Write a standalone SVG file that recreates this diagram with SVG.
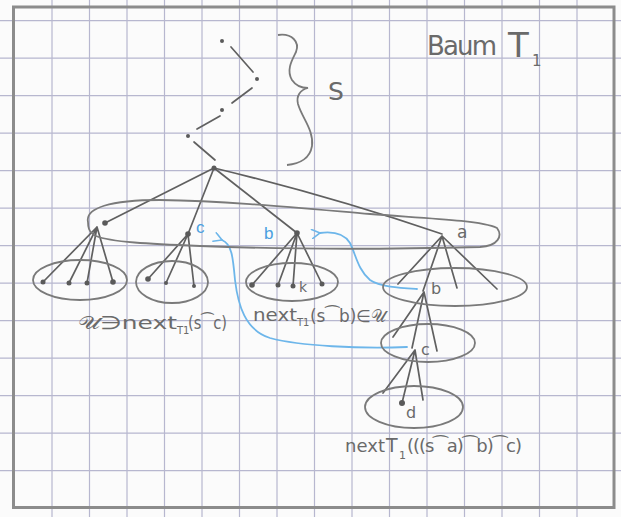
<svg xmlns="http://www.w3.org/2000/svg" width="621" height="517" viewBox="0 0 621 517">
<defs>
<style>
.grid{stroke:#b7b7cf;stroke-width:1.2;fill:none}
.frame{stroke:#8c8c8c;stroke-width:3;fill:none}
.edge{stroke:#606060;stroke-width:1.7;fill:none;stroke-linecap:round}
.ell{stroke:#7a7a7a;stroke-width:1.8;fill:none}
.dot{fill:#5a5a5a}
.blue{stroke:#6db6ea;stroke-width:1.8;fill:none;stroke-linecap:round}
.lbl{font-family:"DejaVu Sans","Liberation Sans",sans-serif;fill:#6a6a6a}
.bl{font-family:"Liberation Sans","DejaVu Sans",sans-serif;fill:#4a9fe0}
</style>
<marker id="chev" viewBox="0 0 10 10" refX="1" refY="5" markerWidth="10" markerHeight="10" markerUnits="userSpaceOnUse" orient="auto">
<path d="M9,0.5 L1,5 L9,9.5" fill="none" stroke="#6db6ea" stroke-width="1.6" stroke-linecap="round"/>
</marker>
</defs>
<rect width="621" height="517" fill="#fbfbfb"/>
<g id="grid">
<path class="grid" d="M52,0V517M89.5,0V517M127,0V517M164.5,0V517M202,0V517M239.5,0V517M277,0V517M314.5,0V517M352,0V517M389.5,0V517M427,0V517M464.5,0V517M502,0V517M539.5,0V517M577,0V517M0,20.7H621M0,58.2H621M0,95.7H621M0,133.2H621M0,170.7H621M0,208.2H621M0,245.7H621M0,283.2H621M0,320.7H621M0,358.2H621M0,395.7H621M0,433.2H621M0,470.7H621"/>
<rect class="frame" x="13.5" y="7" width="600.5" height="500.5"/>
</g>
<g id="title">
<text class="lbl" x="427" y="55" font-size="26" textLength="70" lengthAdjust="spacing">Baum</text>
<text class="lbl" x="508" y="57" font-size="34">T</text>
<text class="lbl" x="532" y="66" font-size="15">1</text>
</g>
<g id="brace">
<path class="ell" d="M278,35 C292,33 300,42 296,52 C292,60 286,70 292,80 C296,86 302,88 308,88 C300,90 296,96 298,104 C302,118 314,130 312,146 C310,158 300,164 287,165"/>
<text class="lbl" x="328" y="100" font-size="25">S</text>
</g>
<g id="connectors">
<path class="edge" d="M231,47 L253,72"/>
<path class="edge" d="M252,88 L232,103"/>
<path class="edge" d="M220,116 L197,129"/>
<path class="edge" d="M194,142 L215,160"/>
<path class="edge" d="M214,168 L105,223"/>
<path class="edge" d="M214,168 L188,234"/>
<path class="edge" d="M214,168 L297,233"/>
<path class="edge" d="M214,168 Q330,196 442,234"/>
<path class="edge" d="M97,227 L43,282 M97,227 L69,283 M97,227 L87,283 M97,227 L113,282"/>
<path class="edge" d="M188,234 L148,279 M188,234 L166,283 M188,234 L194,286"/>
<path class="edge" d="M297,233 L252,285 M297,233 L278,285 M297,233 L293,286 M297,233 L322,284"/>
<path class="edge" d="M442,236 L398,284 M442,236 L423,291 M442,236 L457,288 M442,236 L497,289"/>
<path class="edge" d="M424,292 L393,337 M424,292 L412,348 M424,292 L437,351"/>
<path class="edge" d="M415,350 L383,393 M415,350 L402,403 M415,350 L423,400"/>
<path class="blue" marker-end="url(#chev)" d="M417,289 C400,288 380,287 370,280 C358,270 356,255 350,243 C345,235 335,231 320,233"/>
<path class="blue" marker-end="url(#chev)" d="M407,347 C360,349 300,346 270,338 C245,330 238,305 235,280 C233,258 232,244 222,240"/>
</g>
<g id="s-chain">
<circle class="dot" cx="222" cy="41" r="2"/>
<circle class="dot" cx="257" cy="79" r="2"/>
<circle class="dot" cx="222" cy="110" r="2"/>
<circle class="dot" cx="188" cy="136" r="2"/>
</g>
<g id="root"><circle class="dot" cx="214" cy="168" r="2.5"/></g>
<g id="level1">
<path class="ell" d="M88,222 C85,208 110,200 160,200 C230,201 300,208 370,214 C420,218 480,220 497,228 C503,236 498,246 480,247 C400,249 300,250 200,246 C150,244 110,242 96,236 C88,232 88,226 88,222 Z"/>
</g>
<g id="node-u1"><circle class="dot" cx="105" cy="223" r="2.8"/></g>
<g id="node-c"><circle class="dot" cx="188" cy="234" r="2.8"/><text class="bl" x="196" y="233" font-size="17">c</text></g>
<g id="node-b"><circle class="dot" cx="297" cy="233" r="2.8"/><text class="bl" x="264" y="239" font-size="17">b</text></g>
<g id="node-a"><text class="lbl" x="457" y="238" font-size="17">a</text></g>
<g id="set1">
<ellipse class="ell" cx="80" cy="280" rx="47" ry="20"/>
<circle class="dot" cx="43" cy="282" r="2.5"/><circle class="dot" cx="69" cy="283" r="2.5"/><circle class="dot" cx="87" cy="283" r="2.5"/><circle class="dot" cx="113" cy="282" r="2.8"/>
<text class="lbl" x="78" y="329" font-size="18"><tspan textLength="99" lengthAdjust="spacingAndGlyphs">𝒰∋next</tspan><tspan x="177" y="334" font-size="10">T1</tspan><tspan x="188" y="329" textLength="39" lengthAdjust="spacingAndGlyphs">(s⁀c)</tspan></text>
</g>
<g id="set2">
<ellipse class="ell" cx="172" cy="282" rx="36" ry="21"/>
<circle class="dot" cx="148" cy="279" r="2.8"/><circle class="dot" cx="166" cy="283" r="2"/><circle class="dot" cx="194" cy="286" r="2"/>
</g>
<g id="set3">
<ellipse class="ell" cx="292" cy="282" rx="46" ry="19"/>
<circle class="dot" cx="252" cy="285" r="2.8"/><circle class="dot" cx="278" cy="285" r="2.5"/><circle class="dot" cx="293" cy="286" r="2.5"/><circle class="dot" cx="322" cy="284" r="2.5"/>
<text class="lbl" x="299" y="292" font-size="14">k</text>
<text class="lbl" x="253" y="321" font-size="17"><tspan textLength="44" lengthAdjust="spacingAndGlyphs">next</tspan><tspan x="297" y="326" font-size="10">T1</tspan><tspan x="310" y="322" textLength="76" lengthAdjust="spacingAndGlyphs">(s⁀b)∈𝒰</tspan></text>
</g>
<g id="set-b">
<ellipse class="ell" cx="455" cy="287" rx="72" ry="19"/>
<text class="lbl" x="431" y="294" font-size="16">b</text>
</g>
<g id="set-c">
<ellipse class="ell" cx="428" cy="343" rx="47" ry="19"/>
<text class="lbl" x="421" y="355" font-size="16">c</text>
</g>
<g id="set-d">
<ellipse class="ell" cx="414" cy="407" rx="49" ry="21"/>
<circle class="dot" cx="402" cy="403" r="3"/>
<text class="lbl" x="406" y="418" font-size="16">d</text>
<text class="lbl" x="345" y="452" font-size="18"><tspan textLength="40" lengthAdjust="spacing">next</tspan><tspan x="386" y="452" font-size="19">T</tspan><tspan x="399" y="459" font-size="11">1</tspan><tspan x="407" y="452" textLength="115" lengthAdjust="spacing">(((s⁀a)⁀b)⁀c)</tspan></text>
</g>
</svg>
